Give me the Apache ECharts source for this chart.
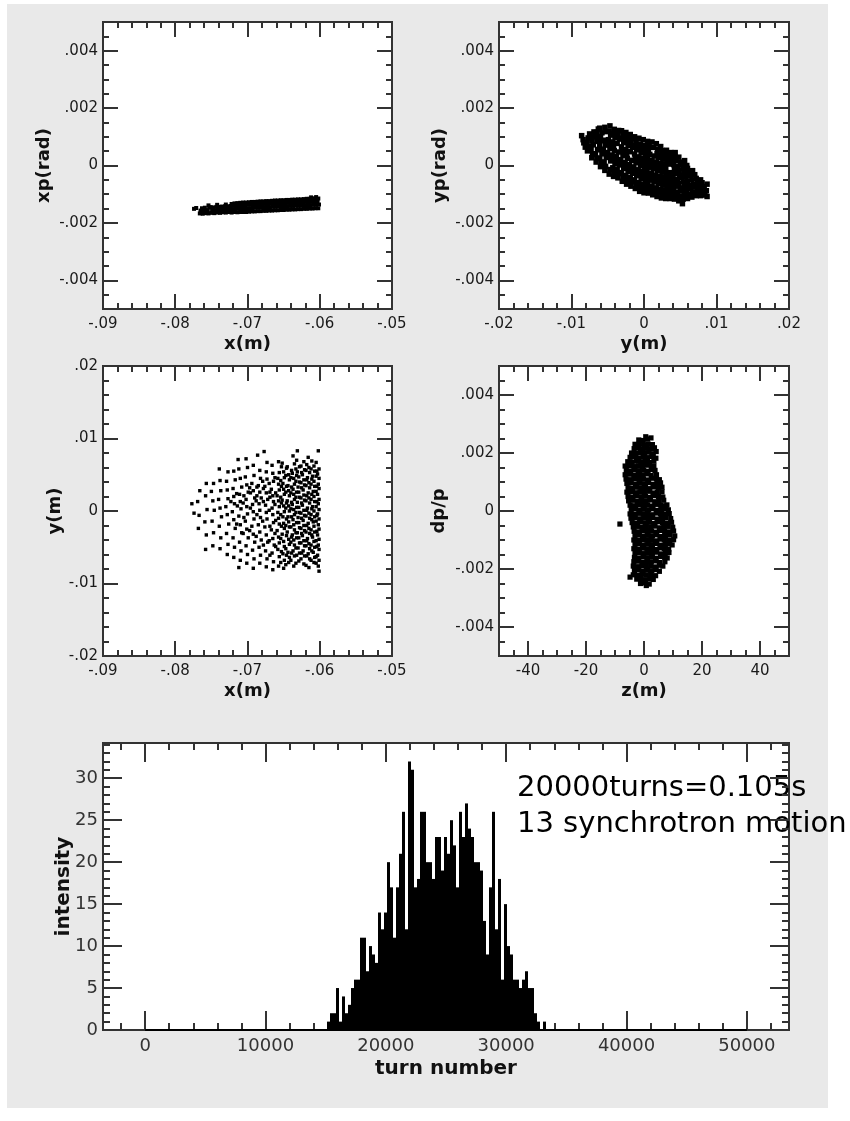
<!DOCTYPE html>
<html>
<head>
<meta charset="utf-8">
<title>beam distribution</title>
<script src="https://cdn.jsdelivr.net/npm/echarts@6.0.0/dist/echarts.min.js"></script>
<style>
  html, body { margin: 0; padding: 0; background: #fff; }
  #panel { position: absolute; left: 7px; top: 4px; width: 821px; height: 1104px; background: #e9e9e9; }
  #chart { position: absolute; left: 0; top: 0; width: 850px; height: 1121px; }
</style>
</head>
<body>
<div id="panel"></div>
<div id="chart"></div>
<script>
// tick labels
const xPosTicks = [-.09, -.08, -.07, -.06, -.05];
const yPosTicks = [-.02, -.01, 0, .01, .02];
const angleTicks = [-.004, -.002, 0, .002, .004];
const zTicks = [-40, -20, 0, 20, 40];
const turnTicks = [0, 10000, 20000, 30000, 40000, 50000];
const intensityTicks = [0, 5, 10, 15, 20, 25, 30];

// x(m) vs xp(rad)
const xXp = [
  [-.0774,-.00151],[-.0771,-.00148],
  [-.0766,-.00167],[-.0765,-.00157],
  [-.0762,-.00168],[-.0761,-.00158],[-.0763,-.00149],
  [-.0758,-.00166],[-.0757,-.00157],[-.0759,-.00147],
  [-.0754,-.00167],[-.0755,-.00156],[-.0753,-.00146],[-.0754,-.00139],
  [-.075,-.00165],[-.0749,-.00155],[-.0751,-.00145],
  [-.0746,-.00166],[-.0745,-.00156],[-.0747,-.00146],
  [-.0742,-.00164],[-.0741,-.00154],[-.0743,-.00144],[-.0742,-.00137],
  [-.0738,-.00165],[-.0737,-.00154],[-.0739,-.00144],
  [-.0734,-.00163],[-.0733,-.00152],[-.0735,-.00143],
  [-.073,-.00164],[-.0729,-.00153],[-.0731,-.00142],[-.073,-.00136],
  [-.0726,-.00162],[-.0725,-.00152],[-.0727,-.00142],
  [-.0722,-.00164],[-.0721,-.00152],[-.0723,-.00141],[-.0722,-.00134],
  [-.0718,-.00162],[-.0717,-.00151],[-.0719,-.0014],[-.0718,-.00132],
  [-.0714,-.00163],[-.0713,-.00151],[-.0715,-.0014],[-.0714,-.00131],
  [-.071,-.00162],[-.0709,-.0015],[-.0711,-.00139],[-.071,-.0013],
  [-.0706,-.00162],[-.0705,-.0015],[-.0707,-.00138],[-.0706,-.00129],
  [-.0702,-.00162],[-.0701,-.00149],[-.0703,-.00138],[-.0702,-.00129],
  [-.0698,-.00161],[-.0697,-.00149],[-.0699,-.00137],[-.0698,-.00128],
  [-.0694,-.0016],[-.0693,-.00148],[-.0695,-.00137],[-.0694,-.00127],
  [-.069,-.0016],[-.0689,-.00147],[-.0691,-.00136],[-.069,-.00127],
  [-.0686,-.00159],[-.0685,-.00147],[-.0687,-.00136],[-.0686,-.00126],
  [-.0682,-.00159],[-.0681,-.00146],[-.0683,-.00135],[-.0682,-.00125],
  [-.0678,-.00158],[-.0677,-.00146],[-.0679,-.00135],[-.0678,-.00125],
  [-.0674,-.00158],[-.0673,-.00145],[-.0675,-.00134],[-.0674,-.00124],
  [-.067,-.00157],[-.0669,-.00145],[-.0671,-.00134],[-.067,-.00124],
  [-.0666,-.00157],[-.0665,-.00144],[-.0667,-.00133],[-.0666,-.00123],
  [-.0662,-.00156],[-.0661,-.00144],[-.0663,-.00133],[-.0662,-.00122],
  [-.0658,-.00156],[-.0657,-.00143],[-.0659,-.00132],[-.0658,-.00122],
  [-.0654,-.00155],[-.0653,-.00143],[-.0655,-.00132],[-.0654,-.00121],
  [-.065,-.00155],[-.0649,-.00142],[-.0651,-.00131],[-.065,-.00121],
  [-.0646,-.00154],[-.0645,-.00142],[-.0647,-.00131],[-.0646,-.0012],
  [-.0642,-.00154],[-.0641,-.00141],[-.0643,-.0013],[-.0642,-.0012],
  [-.0638,-.00153],[-.0637,-.00141],[-.0639,-.0013],[-.0638,-.00119],
  [-.0634,-.00153],[-.0633,-.0014],[-.0635,-.00129],[-.0634,-.00119],
  [-.063,-.00152],[-.0629,-.0014],[-.0631,-.00129],[-.063,-.00118],
  [-.0626,-.00152],[-.0625,-.00139],[-.0627,-.00128],[-.0626,-.00118],
  [-.0622,-.00151],[-.0621,-.00139],[-.0623,-.00128],[-.0622,-.00117],
  [-.0618,-.00151],[-.0617,-.00138],[-.0619,-.00127],[-.0618,-.00116],
  [-.0614,-.0015],[-.0613,-.00138],[-.0615,-.00127],[-.0614,-.00116],
  [-.061,-.0015],[-.0609,-.00137],[-.0611,-.00126],[-.061,-.00115],
  [-.0606,-.00149],[-.0605,-.00137],[-.0607,-.00126],[-.0606,-.00114],
  [-.0602,-.00149],[-.0601,-.00136],[-.0603,-.00125],[-.0602,-.00115],
  [-.0612,-.00111],[-.0605,-.0011]
];

// y(m) vs yp(rad)
const yYp = [
  [-.0086,.00104],[-.0083,.00079],[-.0081,.00064],[-.0084,.0009],
  [-.0078,.00051],[-.0076,.00066],[-.0079,.00081],[-.0077,.00096],[-.0075,.0011],
  [-.0072,.00027],[-.0071,.00041],[-.0073,.00055],[-.007,.00072],[-.0072,.00085],[-.0071,.001],[-.0069,.00117],
  [-.0066,.00012],[-.0065,.00026],[-.0067,.00039],[-.0064,.00056],[-.0065,.00084],[-.0067,.00101],[-.0065,.00115],[-.0063,.00127],
  [-.006,-.00004],[-.0059,.00011],[-.0061,.00025],[-.0058,.00041],[-.006,.00055],[-.0061,.00069],[-.0059,.00086],[-.006,.001],[-.0058,.00114],[-.0061,.0013],
  [-.0054,-.00017],[-.0053,-.00003],[-.0055,.00012],[-.0052,.00028],[-.0054,.00042],[-.0056,.00057],[-.0053,.00071],[-.0054,.00088],[-.0052,.00118],[-.0054,.00133],
  [-.0048,-.0003],[-.0047,-.00014],[-.0046,.00016],[-.0048,.0003],[-.005,.00045],[-.0047,.0006],[-.0048,.00074],[-.0049,.0009],[-.0046,.00106],[-.0048,.0012],[-.0047,.00138],
  [-.0042,-.00038],[-.0041,-.00022],[-.0043,-.00008],[-.004,.00007],[-.0042,.00023],[-.0044,.00036],[-.0041,.00052],[-.0042,.00067],[-.0043,.00082],[-.004,.00098],[-.0042,.00112],[-.0041,.00126],
  [-.0036,-.00043],[-.0035,-.00028],[-.0037,-.00013],[-.0034,.00002],[-.0036,.00017],[-.0038,.00032],[-.0035,.00047],[-.0037,.00077],[-.0034,.00092],[-.0036,.00107],[-.0035,.00122],
  [-.003,-.00055],[-.0029,-.0004],[-.0031,-.00025],[-.0028,-.0001],[-.003,.00005],[-.0032,.0002],[-.0029,.00035],[-.003,.0005],[-.0031,.00065],[-.0028,.0008],[-.003,.00095],[-.0029,.0011],[-.0031,.00121],
  [-.0024,-.00065],[-.0023,-.0005],[-.0025,-.00035],[-.0022,-.0002],[-.0024,-.00005],[-.0026,.0001],[-.0023,.00025],[-.0024,.0004],[-.0025,.00055],[-.0022,.0007],[-.0024,.00085],[-.0023,.001],[-.0025,.00115],
  [-.0018,-.00072],[-.0017,-.00057],[-.0019,-.00042],[-.0016,-.00027],[-.0018,-.00012],[-.002,.00003],[-.0017,.00018],[-.0019,.00048],[-.0016,.00063],[-.0018,.00078],[-.0017,.00093],[-.0019,.00108],
  [-.0012,-.0008],[-.0011,-.00065],[-.0013,-.0005],[-.001,-.00035],[-.0012,-.0002],[-.0014,-.00005],[-.0011,.0001],[-.0012,.00025],[-.0013,.0004],[-.001,.00055],[-.0012,.0007],[-.0011,.00085],[-.0013,.001],
  [-.0006,-.0009],[-.0005,-.00075],[-.0007,-.0006],[-.0004,-.00045],[-.0006,-.0003],[-.0008,-.00015],[-.0005,0],[-.0006,.00015],[-.0007,.0003],[-.0004,.00045],[-.0006,.0006],[-.0005,.00075],[-.0007,.00095],
  [0,-.00095],[.0001,-.0008],[-.0001,-.00065],[.0002,-.0005],[0,-.00035],[-.0002,-.0002],[.0001,-.00005],[0,.0001],[-.0001,.00025],[.0002,.0004],[0,.00055],[.0001,.0007],[-.0001,.0009],
  [.0006,-.00096],[.0007,-.00081],[.0005,-.00066],[.0008,-.00051],[.0006,-.00036],[.0004,-.00021],[.0007,-.00006],[.0006,.00009],[.0005,.00024],[.0008,.00039],[.0006,.00054],[.0007,.00069],[.0005,.00084],
  [.0012,-.00102],[.0013,-.00087],[.0011,-.00072],[.0014,-.00057],[.0012,-.00042],[.001,-.00027],[.0013,-.00012],[.0012,.00003],[.0011,.00018],[.0014,.00033],[.0013,.00063],[.0011,.00082],
  [.0018,-.00108],[.0019,-.00093],[.0017,-.00078],[.002,-.00063],[.0018,-.00048],[.0016,-.00033],[.0019,-.00018],[.0018,-.00003],[.0017,.00012],[.002,.00027],[.0018,.00042],[.0019,.00057],[.0017,.00076],
  [.0024,-.00113],[.0025,-.00098],[.0023,-.00083],[.0026,-.00068],[.0024,-.00053],[.0022,-.00038],[.0025,-.00023],[.0024,-.00008],[.0023,.00007],[.0026,.00022],[.0024,.00037],[.0025,.00052],[.0023,.00066],
  [.003,-.00115],[.0031,-.001],[.0029,-.00085],[.0032,-.0007],[.003,-.00055],[.0028,-.0004],[.0031,-.00025],[.003,-.0001],[.0029,.00005],[.0032,.0002],[.003,.00035],[.0031,.00053],
  [.0036,-.00115],[.0037,-.001],[.0035,-.00085],[.0038,-.0007],[.0036,-.00055],[.0034,-.0004],[.0037,-.00025],[.0035,.00005],[.0038,.0002],[.0036,.00035],[.0037,.00045],
  [.0042,-.00117],[.0043,-.00102],[.0041,-.00087],[.0044,-.00072],[.0042,-.00057],[.004,-.00042],[.0043,-.00027],[.0042,-.00012],[.0041,.00003],[.0044,.00018],[.0042,.00033],[.0043,.00045],
  [.0048,-.00123],[.0049,-.00108],[.0047,-.00093],[.005,-.00078],[.0048,-.00063],[.0046,-.00048],[.0049,-.00033],[.0048,-.00018],[.0047,-.00003],[.005,.00012],[.0048,.00029],
  [.0054,-.00117],[.0055,-.00102],[.0053,-.00087],[.0056,-.00072],[.0054,-.00057],[.0052,-.00042],[.0055,-.00027],[.0054,-.00012],[.0053,.00003],[.0056,.00017],
  [.006,-.00115],[.0061,-.001],[.0059,-.00085],[.0062,-.0007],[.006,-.00055],[.0058,-.0004],[.0061,-.00025],[.006,-.0001],[.0059,0],
  [.0066,-.0011],[.0067,-.00095],[.0065,-.0008],[.0068,-.00065],[.0066,-.0005],[.0064,-.00035],[.0067,-.00018],
  [.0072,-.00105],[.0073,-.0009],[.0071,-.00075],[.0074,-.0006],[.0072,-.00045],[.007,-.00032],
  [.0078,-.00105],[.0079,-.0009],[.0077,-.00075],[.008,-.0006],[.0078,-.0005],
  [.0084,-.00103],[.0086,-.00088],[.0083,-.00073],[.0087,-.00065],
  [.0053,-.00133],[.0087,-.00108]
];

// x(m) vs y(m)
const xY = [
  [-.0601,-.0083],[-.0602,-.0076],[-.0601,-.0068],[-.0603,-.0061],[-.0601,-.0053],[-.0602,-.0047],[-.0601,-.0039],[-.0603,-.0033],[-.0601,-.0025],[-.0602,-.0019],[-.0601,-.0011],[-.0603,-.0004],[-.0601,.0002],[-.0602,.001],[-.0601,.0016],[-.0603,.0023],[-.0601,.0031],[-.0602,.0037],[-.0601,.0045],[-.0603,.0051],[-.0601,.0058],[-.0602,.0083],
  [-.0608,-.0071],[-.0607,-.0064],[-.0609,-.0057],[-.0607,-.005],[-.0608,-.0042],[-.061,-.0036],[-.0607,-.0029],[-.0608,-.0021],[-.0609,-.0015],[-.0607,-.0008],[-.0608,0],[-.061,.0006],[-.0607,.0013],[-.0608,.002],[-.0609,.0027],[-.0607,.0034],[-.0608,.0041],[-.061,.0048],[-.0607,.0055],[-.0608,.0062],
  [-.0615,-.0078],[-.0614,-.0066],[-.0616,-.0059],[-.0614,-.0052],[-.0615,-.0045],[-.0617,-.0038],[-.0614,-.0031],[-.0615,-.0024],[-.0616,-.0017],[-.0614,-.001],[-.0615,-.0003],[-.0617,.0004],[-.0614,.0011],[-.0615,.0018],[-.0616,.0025],[-.0614,.0032],[-.0615,.0039],[-.0617,.0046],[-.0614,.0053],[-.0615,.006],[-.0616,.0074],
  [-.0622,-.0073],[-.0621,-.0062],[-.0623,-.0055],[-.0621,-.0048],[-.0622,-.0041],[-.0624,-.0034],[-.0621,-.0027],[-.0622,-.002],[-.0623,-.0013],[-.0621,-.0006],[-.0622,.0001],[-.0624,.0008],[-.0621,.0015],[-.0622,.0022],[-.0623,.0029],[-.0621,.0036],[-.0622,.0043],[-.0624,.005],[-.0621,.0057],[-.0622,.0068],
  [-.0629,-.0069],[-.0628,-.0058],[-.063,-.0051],[-.0628,-.0044],[-.0629,-.0037],[-.0631,-.003],[-.0628,-.0023],[-.0629,-.0016],[-.063,-.0009],[-.0628,-.0002],[-.0629,.0005],[-.0631,.0012],[-.0628,.0019],[-.0629,.0026],[-.063,.0033],[-.0628,.004],[-.0629,.0047],[-.0631,.0054],[-.0628,.0061],[-.0631,.0083],
  [-.0636,-.0076],[-.0635,-.0062],[-.0637,-.0055],[-.0635,-.0047],[-.0636,-.004],[-.0638,-.0033],[-.0635,-.0026],[-.0636,-.0019],[-.0637,-.0012],[-.0635,-.0005],[-.0636,.0002],[-.0638,.0009],[-.0635,.0016],[-.0636,.0023],[-.0637,.003],[-.0635,.0037],[-.0636,.0045],[-.0638,.0052],[-.0635,.0065],[-.0637,.0076],
  [-.0643,-.0071],[-.0642,-.0064],[-.0644,-.0057],[-.0642,-.0046],[-.0643,-.0039],[-.0645,-.0029],[-.0642,-.0022],[-.0643,-.0015],[-.0644,-.0008],[-.0642,0],[-.0643,.0007],[-.0645,.0014],[-.0642,.0021],[-.0643,.0028],[-.0644,.0035],[-.0642,.0043],[-.0643,.005],[-.0645,.0061],
  [-.065,-.0079],[-.0649,-.0068],[-.0651,-.0059],[-.0649,-.0049],[-.065,-.0042],[-.0652,-.0032],[-.0649,-.0024],[-.065,-.0017],[-.0651,-.0008],[-.0649,-.0001],[-.065,.0007],[-.0652,.0015],[-.0649,.0023],[-.065,.003],[-.0651,.0038],[-.0649,.0046],[-.065,.0054],[-.0652,.0066],
  [-.0657,-.0076],[-.0656,-.0063],[-.0658,-.0053],[-.0656,-.0044],[-.0657,-.0036],[-.0659,-.0027],[-.0656,-.0018],[-.0657,-.001],[-.0658,-.0002],[-.0656,.0006],[-.0657,.0014],[-.0659,.0021],[-.0656,.0029],[-.0657,.0037],[-.0658,.0045],[-.0656,.0053],[-.0657,.0068],
  [-.0605,-.0072],[-.0605,-.0063],[-.0604,-.0049],[-.0605,-.0041],[-.0604,-.0028],[-.0605,-.0014],[-.0604,-.0006],[-.0605,.0006],[-.0604,.0013],[-.0605,.0027],[-.0604,.0034],[-.0605,.0048],[-.0604,.0055],[-.0605,.0067],
  [-.0612,-.0068],[-.0611,-.0055],[-.0612,-.0047],[-.0611,-.0033],[-.0612,-.0026],[-.0611,-.0012],[-.0612,-.0005],[-.0611,.0003],[-.0612,.0016],[-.0611,.0023],[-.0612,.0037],[-.0611,.0044],[-.0612,.0058],[-.0611,.0069],
  [-.0619,-.0075],[-.0618,-.0062],[-.0619,-.0048],[-.0618,-.0041],[-.0619,-.0029],[-.0618,-.002],[-.0619,-.0007],[-.0618,.0001],[-.0619,.0014],[-.0618,.0021],[-.0619,.0035],[-.0618,.0043],[-.0619,.0056],[-.0618,.0064],
  [-.0626,-.0066],[-.0625,-.0058],[-.0626,-.0044],[-.0625,-.0031],[-.0626,-.0024],[-.0625,-.001],[-.0626,-.0003],[-.0625,.0011],[-.0626,.0018],[-.0625,.0032],[-.0626,.0039],[-.0625,.0053],[-.0626,.0062],
  [-.0633,-.0072],[-.0632,-.0061],[-.0633,-.0051],[-.0632,-.0037],[-.0633,-.003],[-.0632,-.0016],[-.0633,-.0002],[-.0632,.0005],[-.0633,.0019],[-.0632,.0026],[-.0633,.0041],[-.0632,.0049],[-.0633,.0058],[-.0632,.007],
  [-.064,-.0068],[-.0639,-.0058],[-.064,-.0043],[-.0639,-.0036],[-.064,-.0022],[-.0639,-.0008],[-.064,.0003],[-.0639,.0012],[-.064,.0025],[-.0639,.0033],[-.064,.0046],[-.0639,.0056],
  [-.0647,-.0074],[-.0646,-.0061],[-.0647,-.0052],[-.0646,-.0034],[-.0647,-.002],[-.0646,-.0011],[-.0647,.0004],[-.0646,.0011],[-.0647,.0026],[-.0646,.0034],[-.0647,.0049],[-.0646,.0059],
  [-.0654,-.0071],[-.0653,-.0056],[-.0654,-.0038],[-.0653,-.0021],[-.0654,-.0005],[-.0653,.0011],[-.0654,.0019],[-.0653,.0034],[-.0654,.0042],[-.0653,.0061],
  [-.0665,-.0081],[-.0664,-.007],[-.0666,-.0058],[-.0663,-.0047],[-.0665,-.0038],[-.0667,-.0026],[-.0664,-.0016],[-.0665,-.0005],[-.0666,.0004],[-.0664,.0013],[-.0665,.0021],[-.0667,.003],[-.0664,.0041],[-.0665,.0052],[-.0666,.0063],
  [-.0661,-.0049],[-.0662,-.0031],[-.0661,-.0013],[-.0662,.0009],[-.0661,.0025],[-.0662,.0046],
  [-.0674,-.0077],[-.0673,-.0066],[-.0675,-.0055],[-.0672,-.0043],[-.0674,-.0033],[-.0676,-.0022],[-.0673,-.0011],[-.0674,-.0002],[-.0675,.0008],[-.0672,.0016],[-.0674,.0025],[-.0676,.0034],[-.0673,.0044],[-.0674,.0054],[-.0673,.0067],[-.0677,.0082],
  [-.0669,-.0061],[-.067,-.0041],[-.0669,-.0021],[-.067,.0001],[-.0669,.0019],[-.067,.0038],
  [-.0683,-.0072],[-.0682,-.0061],[-.0684,-.005],[-.0681,-.004],[-.0683,-.0029],[-.0685,-.0019],[-.0682,-.0009],[-.0683,.0001],[-.0684,.001],[-.0681,.0018],[-.0683,.0026],[-.0685,.0035],[-.0682,.0045],[-.0683,.0056],[-.0686,.0077],
  [-.0678,-.0047],[-.0679,-.0014],[-.0678,.0013],[-.0679,.0041],
  [-.0692,-.0079],[-.0691,-.0066],[-.0693,-.0054],[-.069,-.0043],[-.0692,-.0032],[-.0694,-.0021],[-.0691,-.0011],[-.0692,-.0001],[-.0693,.0009],[-.069,.0018],[-.0692,.0028],[-.0694,.0038],[-.0691,.0049],[-.0692,.0063],
  [-.0688,-.0035],[-.0687,-.0005],[-.0688,.0014],[-.0687,.0033],
  [-.0701,-.0072],[-.07,-.006],[-.0702,-.0048],[-.0699,-.0037],[-.0701,-.0025],[-.0703,-.0014],[-.07,-.0004],[-.0701,.0006],[-.0702,.0016],[-.0699,.0026],[-.0701,.0036],[-.0703,.0047],[-.07,.006],[-.0702,.0072],
  [-.0697,-.0027],[-.0696,.0004],[-.0697,.0032],
  [-.071,-.0068],[-.0709,-.0055],[-.0711,-.0043],[-.0708,-.003],[-.071,-.0019],[-.0712,-.0007],[-.0709,.0003],[-.071,.0013],[-.0711,.0023],[-.0708,.0033],[-.071,.0045],[-.0712,.0058],[-.0713,.0071],[-.0712,-.0078],
  [-.0706,-.0031],[-.0705,-.0009],[-.0706,.0011],[-.0715,-.0018],[-.0714,.0007],
  [-.0719,-.0064],[-.0718,-.005],[-.072,-.0037],[-.0717,-.0024],[-.0719,-.0012],[-.0721,-.0001],[-.0718,.001],[-.0719,.002],[-.072,.0031],[-.0717,.0043],[-.0719,.0055],
  [-.0728,-.006],[-.0727,-.0046],[-.0729,-.0031],[-.0726,-.0018],[-.0728,-.0005],[-.073,.0006],[-.0727,.0017],[-.0728,.0029],[-.0729,.0041],[-.0727,.0054],
  [-.0738,-.0052],[-.0737,-.0037],[-.0739,-.0021],[-.0736,-.0008],[-.0738,.0004],[-.074,.0016],[-.0737,.0028],[-.0738,.0042],[-.0739,.0058],
  [-.0748,-.0048],[-.0747,-.003],[-.0749,-.0014],[-.0746,.0001],[-.0748,.0014],[-.075,.0027],[-.0747,.0038],
  [-.0758,-.0053],[-.0757,-.0033],[-.0759,-.0015],[-.0756,.0002],[-.0758,.0021],[-.0757,.0038],
  [-.0768,-.0024],[-.0767,-.0006],[-.0769,.0013],[-.0766,.0028],
  [-.0777,.001],[-.0774,-.0003],
  [-.0715,.0024],[-.0705,.0021],[-.0696,.0025],[-.0687,.0021],[-.0678,.0031],[-.0669,.0026],[-.0723,.0013]
];

// z(m) vs dp/p
const zDp = [
  [-1.8,.00245],[-.3,.00243],[1.2,.00248],[2.4,.00252],[.6,.00256],
  [-3.1,.0023],[-1.6,.00232],[-.1,.00228],[1.4,.00231],[2.9,.00229],
  [-3.4,.00215],[-1.9,.00217],[-.4,.00213],[1.1,.00216],[2.6,.00214],[3.6,.00218],
  [-4.3,.002],[-2.8,.00198],[-1.3,.00202],[.2,.00199],[1.7,.00203],[3.2,.00197],[4.2,.00205],
  [-4.8,.00185],[-3.3,.00187],[-1.8,.00183],[-.3,.00186],[1.2,.00184],[2.7,.00188],[4.1,.00182],
  [-5.6,.0017],[-4.1,.00168],[-2.6,.00172],[-1.1,.00169],[.4,.00171],[1.9,.00167],[3.4,.00173],
  [-6.5,.00155],[-5,.00157],[-3.5,.00153],[-2,.00156],[-.5,.00154],[1,.00158],[2.5,.00152],[3.4,.00156],
  [-6.1,.0014],[-4.6,.00138],[-3.1,.00142],[-1.6,.00139],[-.1,.00141],[1.4,.00137],[2.9,.00143],[3.8,.0014],
  [-6.5,.00125],[-5,.00127],[-3.5,.00123],[-2,.00126],[-.5,.00124],[1,.00128],[2.5,.00122],[4.3,.00125],
  [-6.2,.0011],[-4.7,.00108],[-3.2,.00112],[-1.7,.00109],[-.2,.00111],[1.3,.00107],[2.8,.00113],[4.3,.0011],[5.3,.00108],
  [-5.9,.00095],[-4.4,.00097],[-2.9,.00093],[-1.4,.00096],[.1,.00094],[1.6,.00098],[3.1,.00092],[4.6,.00095],[5.7,.00097],
  [-5.5,.0008],[-4,.00078],[-2.5,.00082],[-1,.00079],[.5,.00081],[2,.00077],[3.5,.00083],[5,.0008],[6.2,.00082],
  [-5.9,.00065],[-4.4,.00067],[-2.9,.00063],[-1.4,.00066],[.1,.00064],[1.6,.00068],[3.1,.00062],[4.6,.00065],[6.2,.00066],
  [-5.5,.0005],[-4,.00048],[-2.5,.00052],[-1,.00049],[.5,.00051],[2,.00047],[3.5,.00053],[5,.0005],[6.5,.00048],
  [-5.3,.00035],[-3.8,.00037],[-2.3,.00033],[-.8,.00036],[.7,.00034],[2.2,.00038],[3.7,.00032],[5.2,.00035],[6.8,.00037],
  [-4.8,.0002],[-3.3,.00018],[-1.8,.00022],[-.3,.00019],[1.2,.00021],[2.7,.00017],[4.2,.00023],[5.7,.0002],[7.2,.00018],[7.9,.00021],
  [-4.4,.00005],[-2.9,.00007],[-1.4,.00003],[.1,.00006],[1.6,.00004],[3.1,.00008],[4.6,.00002],[6.1,.00005],[7.6,.00007],[8.4,.00004],
  [-4.8,-.0001],[-3.3,-.00012],[-1.8,-.00008],[-.3,-.00011],[1.2,-.00009],[2.7,-.00013],[4.2,-.00007],[5.7,-.0001],[7.2,-.00012],[8.7,-.00009],
  [-4.5,-.00025],[-3,-.00023],[-1.5,-.00027],[0,-.00024],[1.5,-.00026],[3,-.00022],[4.5,-.00028],[6,-.00025],[7.5,-.00023],[9.2,-.00026],
  [-8.3,-.00045],[-4.1,-.0004],[-2.6,-.00042],[-1.1,-.00038],[.4,-.00041],[1.9,-.00039],[3.4,-.00043],[4.9,-.00037],[6.4,-.0004],[7.9,-.00042],[9.5,-.00039],
  [-3.7,-.00055],[-2.2,-.00053],[-.7,-.00057],[.8,-.00054],[2.3,-.00056],[3.8,-.00052],[5.3,-.00058],[6.8,-.00055],[8.3,-.00053],[9.9,-.00056],
  [-3.4,-.0007],[-1.9,-.00072],[-.4,-.00068],[1.1,-.00071],[2.6,-.00069],[4.1,-.00073],[5.6,-.00067],[7.1,-.0007],[8.6,-.00072],[10.2,-.00069],
  [-3.1,-.00085],[-1.6,-.00083],[-.1,-.00087],[1.4,-.00084],[2.9,-.00086],[4.4,-.00082],[5.9,-.00088],[7.4,-.00085],[8.9,-.00083],[10.6,-.00086],
  [-3.5,-.001],[-2,-.00102],[-.5,-.00098],[1,-.00101],[2.5,-.00099],[4,-.00103],[5.5,-.00097],[7,-.001],[8.5,-.00102],[10.2,-.00099],
  [-3.1,-.00115],[-1.6,-.00113],[-.1,-.00117],[1.4,-.00114],[2.9,-.00116],[4.4,-.00112],[5.9,-.00118],[7.4,-.00115],[8.9,-.00113],[9.7,-.00117],
  [-3.5,-.0013],[-2,-.00132],[-.5,-.00128],[1,-.00131],[2.5,-.00129],[4,-.00133],[5.5,-.00127],[7,-.0013],[8.5,-.00132],
  [-3.1,-.00145],[-1.6,-.00143],[-.1,-.00147],[1.4,-.00144],[2.9,-.00146],[4.4,-.00142],[5.9,-.00148],[7.4,-.00145],[8.6,-.00143],
  [-3.3,-.0016],[-1.8,-.00162],[-.3,-.00158],[1.2,-.00161],[2.7,-.00159],[4.2,-.00163],[5.7,-.00157],[7.2,-.0016],[8,-.00162],
  [-3.5,-.00175],[-2,-.00173],[-.5,-.00177],[1,-.00174],[2.5,-.00176],[4,-.00172],[5.5,-.00178],[7.2,-.00175],
  [-3.7,-.0019],[-2.2,-.00192],[-.7,-.00188],[.8,-.00191],[2.3,-.00189],[3.8,-.00193],[5.3,-.00187],[6.5,-.0019],
  [-3.3,-.00205],[-1.8,-.00203],[-.3,-.00207],[1.2,-.00204],[2.7,-.00206],[4.2,-.00202],[5.3,-.00208],
  [-3.7,-.0022],[-2.2,-.00222],[-.7,-.00218],[.8,-.00221],[2.3,-.00219],[4,-.00223],
  [-4.8,-.00228],[-2.5,-.00235],[-1,-.00233],[.5,-.00237],[2,-.00234],[3.2,-.00236],
  [-1.2,-.0025],[.3,-.00248],[1.8,-.00252],[.8,-.00257]
];

// turn-number histogram
const histFirstBin = 15100;
const histBinWidth = 250;
const histCounts = [
  1, 2, 2, 5, 1, 4, 2, 3, 5, 6,
  6, 11, 11, 7, 10, 9, 8, 14, 12, 14,
  20, 17, 11, 17, 21, 26, 12, 32, 31, 17,
  18, 26, 26, 20, 20, 18, 23, 23, 19, 23,
  21, 25, 22, 17, 26, 23, 27, 24, 23, 20,
  20, 19, 13, 9, 17, 26, 12, 18, 6, 15,
  10, 9, 6, 6, 5, 6, 7, 5, 5, 2,
  1, 0, 1
];
const histBaseline = [[0, 0], [50000, 0]];

const histData = histCounts.map((c, i) => [histFirstBin + i * histBinWidth, c]);

const ink = '#333';
const fmt = v => (v === 0 ? '0' : String(+v.toFixed(6)).replace('0.', '.'));

function steps(from, to, step) {
  const out = [];
  const n = Math.round((to - from) / step);
  for (let i = 0; i <= n; i++) out.push(+(from + i * step).toFixed(8));
  return out;
}
function minorOf(from, to, step, major) {
  return steps(from, to, step).filter(v => !major.some(m => Math.abs(m - v) < step / 10));
}

function axes(dim, grid, min, max, major, minor, name, o) {
  const sides = dim === 'x' ? ['bottom', 'top'] : ['left', 'right'];
  const base = {
    gridIndex: grid, type: 'value', min, max,
    splitLine: { show: false },
    axisLine: { show: false, onZero: false }
  };
  const tick = (vals, len) => ({
    show: true, inside: true, length: len, customValues: vals,
    lineStyle: { color: ink, width: 2 }
  });
  const first = {
    ...base, position: sides[0],
    axisTick: tick(major, o.majorLen),
    axisLabel: {
      customValues: major, formatter: fmt, margin: o.margin,
      color: o.labelColor, fontFamily: 'DejaVu Sans', fontSize: o.labelSize,
      showMinLabel: true, showMaxLabel: true
    },
    name, nameLocation: 'middle', nameGap: o.nameGap, nameMoveOverlap: false,
    nameTextStyle: { color: '#111', fontFamily: 'DejaVu Sans', fontWeight: 'bold', fontSize: o.nameSize }
  };
  if (dim === 'y') first.nameRotate = 90;
  return [
    first,
    { ...base, position: sides[0], axisTick: tick(minor, o.minorLen), axisLabel: { show: false } },
    { ...base, position: sides[1], axisTick: tick(major, o.majorLen), axisLabel: { show: false } },
    { ...base, position: sides[1], axisTick: tick(minor, o.minorLen), axisLabel: { show: false } }
  ];
}

const sx = { majorLen: 15, minorLen: 6, margin: 8, labelSize: 15, labelColor: '#1a1a1a', nameSize: 18, nameGap: 26 };
const sy = { ...sx, margin: 5, nameGap: 50 };
const hx = { majorLen: 19, minorLen: 7, margin: 7, labelSize: 18, labelColor: '#333', nameSize: 20, nameGap: 29 };
const hy = { ...hx, margin: 5, nameGap: 29 };

const xPosMinor = minorOf(-.09, -.05, .002, xPosTicks);
const yPosMinor = minorOf(-.02, .02, .002, yPosTicks);
const angleMinor = minorOf(-.0045, .0045, .0005, angleTicks);
const zMinor = minorOf(-45, 45, 5, zTicks);
const turnMinor = minorOf(-2000, 52000, 2000, turnTicks);
const intensityMinor = minorOf(1, 34, 1, intensityTicks);

const xAxis = [
  ...axes('x', 0, -.09, -.05, xPosTicks, xPosMinor, 'x(m)', sx),
  ...axes('x', 1, -.02, .02, yPosTicks, yPosMinor, 'y(m)', sx),
  ...axes('x', 2, -.09, -.05, xPosTicks, xPosMinor, 'x(m)', sx),
  ...axes('x', 3, -50, 50, zTicks, zMinor, 'z(m)', sx),
  ...axes('x', 4, -3500, 53500, turnTicks, turnMinor, 'turn number', hx)
];
const yAxis = [
  ...axes('y', 0, -.005, .005, angleTicks, angleMinor, 'xp(rad)', sy),
  ...axes('y', 1, -.005, .005, angleTicks, angleMinor, 'yp(rad)', sy),
  ...axes('y', 2, -.02, .02, yPosTicks, yPosMinor, 'y(m)', { ...sy, nameGap: 39 }),
  ...axes('y', 3, -.005, .005, angleTicks, angleMinor, 'dp/p', { ...sy, nameGap: 51 }),
  ...axes('y', 4, 0, 34.2, intensityTicks, intensityMinor, 'intensity', hy)
];

const grid = [
  { left: 103, top: 22, width: 289, height: 287 },
  { left: 499, top: 22, width: 290, height: 287 },
  { left: 103, top: 366, width: 289, height: 290 },
  { left: 499, top: 366, width: 290, height: 290 },
  { left: 103, top: 743, width: 686, height: 287 }
].map(g => ({ ...g, show: true, backgroundColor: '#fff', borderColor: ink, borderWidth: 2, outerBoundsMode: 'none' }));

const dots = (i, data, size) => ({
  type: 'scatter', xAxisIndex: i * 4, yAxisIndex: i * 4, data,
  symbol: 'rect', symbolSize: size, itemStyle: { color: '#000', opacity: 1 }, silent: true
});

const chart = echarts.init(document.getElementById('chart'));
chart.setOption({
  animation: false,
  grid, xAxis, yAxis,
  series: [
    dots(0, xXp, 4),
    dots(1, yYp, 5.5),
    dots(2, xY, 3.4),
    dots(3, zDp, 5.2),
    {
      type: 'line', xAxisIndex: 16, yAxisIndex: 16, data: histBaseline,
      symbol: 'none', lineStyle: { color: '#000', width: 2 }, silent: true
    },
    {
      type: 'custom', xAxisIndex: 16, yAxisIndex: 16, data: histData, silent: true,
      encode: { x: 0, y: 1 },
      renderItem(params, api) {
        const start = api.value(0);
        const top = api.coord([start, api.value(1)]);
        const end = api.coord([start + histBinWidth, 0]);
        const x0 = Math.round(top[0]);
        const x1 = Math.round(end[0]);
        return {
          type: 'rect',
          shape: { x: x0, y: top[1], width: x1 - x0, height: end[1] - top[1] },
          style: { fill: '#000' }
        };
      }
    }
  ],
  graphic: [{
    type: 'text', left: 517, top: 770,
    style: {
      text: '20000turns=0.105s\n13 synchrotron motion',
      font: '29px "Comic Sans MS", "DejaVu Sans"', fill: '#000', lineHeight: 36
    }
  }]
});
</script>
</body>
</html>
